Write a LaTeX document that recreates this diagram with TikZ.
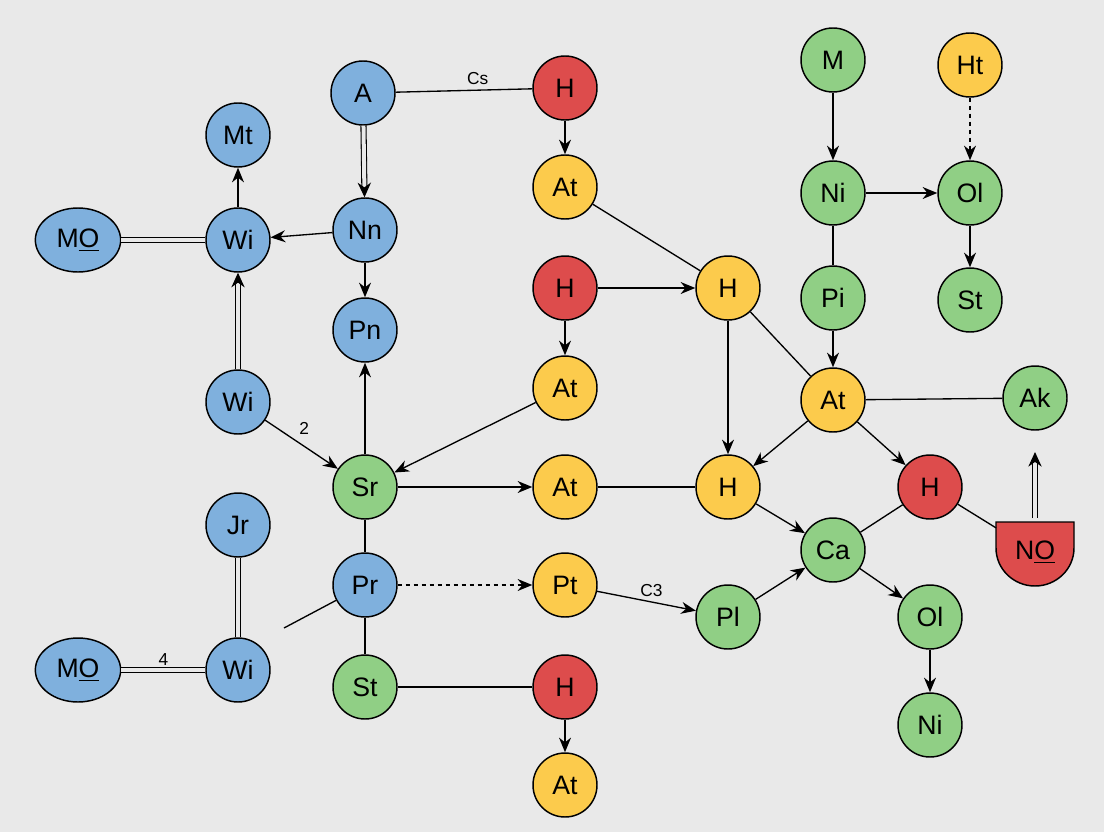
\documentclass[tikz,border=0pt]{standalone}
\usepackage{fontspec}
\setmainfont{Liberation Sans}
\usetikzlibrary{arrows.meta,shapes.geometric}
\definecolor{bg}{HTML}{E9E9E9}
\definecolor{cb}{HTML}{7FB0DD}
\definecolor{cg}{HTML}{90CF85}
\definecolor{cr}{HTML}{DD4C4C}
\definecolor{cy}{HTML}{FCCB4C}
\tikzset{
 nd/.style={circle,draw=black,line width=1.1pt,minimum size=48pt,inner sep=0pt,font=\fontsize{20}{23}\selectfont},
 bl/.style={nd,fill=cb}, gr/.style={nd,fill=cg}, rd/.style={nd,fill=cr}, yl/.style={nd,fill=cy},
 ov/.style={ellipse,draw=black,line width=1.1pt,minimum width=64pt,minimum height=48pt,inner sep=0pt,fill=cb,font=\fontsize{20}{23}\selectfont},
 ln/.style={line width=1pt},
 ar/.style={ln,-{Stealth[length=11pt,width=9pt]}},
 dbl/.style={line width=0.8pt,double=bg,double distance=3pt},
 dar/.style={dbl,-{Stealth[length=11pt,width=10pt]}},
 lb/.style={font=\fontsize{13}{15}\selectfont}
}
\begin{document}
\begin{tikzpicture}[x=0.75pt,y=-0.75pt]
\fill[bg] (0,0) rectangle (1104,832);
% blue
\node[bl] (A) at (363,93) {A};
\node[bl] (Mt) at (238,135) {Mt};
\node[ov] (MO1) at (78,240) {M\underline{O}};
\node[bl] (Wi1) at (238,240) {Wi};
\node[bl] (Nn) at (365,230) {Nn};
\node[bl] (Pn) at (365,330) {Pn};
\node[bl] (Wi2) at (238,402) {Wi};
\node[bl] (Jr) at (238,525) {Jr};
\node[ov] (MO2) at (78,670) {M\underline{O}};
\node[bl] (Wi3) at (238,670) {Wi};
\node[bl] (Pr) at (365,585) {Pr};
% green
\node[gr] (Sr) at (365,487) {Sr};
\node[gr] (St) at (365,687) {St};
\node[gr] (M) at (833,60) {M};
\node[gr] (Ni) at (833,193) {Ni};
\node[gr] (Ol) at (970,193) {Ol};
\node[gr] (St2) at (970,300) {St};
\node[gr] (Pi) at (833,298) {Pi};
\node[gr] (Ak) at (1035,398) {Ak};
\node[gr] (Ca) at (833,550) {Ca};
\node[gr] (Pl) at (728,617) {Pl};
\node[gr] (Ol2) at (930,617) {Ol};
\node[gr] (Ni2) at (930,725) {Ni};
% red
\node[rd] (H1) at (565,88) {H};
\node[rd] (H2) at (565,288) {H};
\node[rd] (H3) at (565,687) {H};
\node[rd] (H4) at (930,487) {H};
\fill[cr,draw=black,line width=1.1pt] (996,522) -- (1074,522) -- (1074,548) arc (0:180:39 and 38) -- cycle;
\node[inner sep=0pt,minimum width=58pt,minimum height=40pt,font=\fontsize{20}{23}\selectfont] (NO) at (1035,552) {N\underline{O}};
% yellow
\node[yl] (Ht) at (970,65) {Ht};
\node[yl] (At1) at (565,187) {At};
\node[yl] (H5) at (728,288) {H};
\node[yl] (At2) at (565,388) {At};
\node[yl] (At3) at (565,487) {At};
\node[yl] (H6) at (728,487) {H};
\node[yl] (At4) at (833,400) {At};
\node[yl] (Pt) at (565,585) {Pt};
\node[yl] (At5) at (565,785) {At};
% edges
\draw[ln] (A) -- node[lb,above,pos=0.6]{Cs} (H1);
\draw[ar] (H1) -- (At1);
\draw[dar] (A) -- (Nn);
\draw[ar] (Nn) -- (Wi1);
\draw[ar] (Nn) -- (Pn);
\draw[ar] (Wi1) -- (Mt);
\draw[dbl] (MO1) -- (Wi1);
\draw[dar] (Wi2) -- (Wi1);
\draw[ar] (Wi2) -- node[lb,above right,pos=0.4]{2} (Sr);
\draw[ar] (Sr) -- (Pn);
\draw[ar] (At2) -- (Sr);
\draw[ar] (H2) -- (At2);
\draw[ar] (H2) -- (H5);
\draw[ln] (At1) -- (H5);
\draw[ar] (H5) -- (H6);
\draw[ln] (H5) -- (At4);
\draw[ar] (Sr) -- (At3);
\draw[ln] (At3) -- (H6);
\draw[ar] (Pi) -- (At4);
\draw[ar] (M) -- (Ni);
\draw[ar] (Ni) -- (Ol);
\draw[ln] (Ni) -- (Pi);
\draw[ar,dashed] (Ht) -- (Ol);
\draw[ar] (Ol) -- (St2);
\draw[ln] (At4) -- (Ak);
\draw[ar] (At4) -- (H6);
\draw[ar] (At4) -- (H4);
\draw[ar] (H6) -- (Ca);
\draw[ln] (H4) -- (Ca);
\draw[ln] (H4) -- (NO);
\coordinate (up1) at (1035,518);
\coordinate (up2) at (1035,452);
\draw[dar] (up1) -- (up2);
\draw[ar] (Ca) -- (Ol2);
\draw[ar] (Ol2) -- (Ni2);
\draw[ar] (Pl) -- (Ca);
\draw[ar] (Pt) -- node[lb,above,pos=0.55]{C3} (Pl);
\draw[ar,dashed] (Pr) -- (Pt);
\draw[ln] (Sr) -- (Pr);
\draw[ln] (Pr) -- (St);
\coordinate (fe) at (284,628);
\draw[ln] (Pr) -- (fe);
\draw[dbl] (Jr) -- (Wi3);
\draw[dbl] (MO2) -- node[lb,above]{4} (Wi3);
\draw[ln] (St) -- (H3);
\draw[ar] (H3) -- (At5);
\end{tikzpicture}
\end{document}
